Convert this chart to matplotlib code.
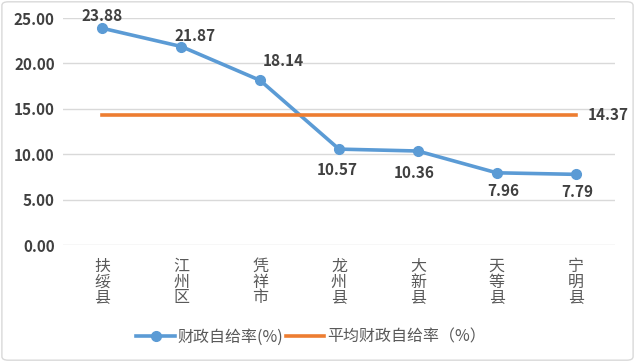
import matplotlib.pyplot as plt
from matplotlib.patches import FancyBboxPatch

plt.rcParams['font.family'] = ['Noto Sans CJK SC', 'DejaVu Sans']

regions = ['扶绥县', '江州区', '凭祥市', '龙州县', '大新县', '天等县', '宁明县']
rates = [23.88, 21.87, 18.14, 10.57, 10.36, 7.96, 7.79]
avg_rate = 14.37
yticks = [0, 5, 10, 15, 20, 25]

blue = '#5B9BD5'
orange = '#ED7D31'
txt = '#404040'

fig = plt.figure(figsize=(6.35, 3.62), dpi=100)
ax = fig.add_axes([63 / 635, 0.323, 552 / 635, 0.627])

x = list(range(len(regions)))
ax.plot(x, rates, color=blue, lw=2.6, marker='o', ms=7, label='财政自给率(%)')
ax.plot(x, [avg_rate] * len(x), color=orange, lw=2.6, label='平均财政自给率（%）')

# data labels (offsets in points)
offsets = [(0, 3, 'bottom'), (10, 2, 'bottom'), (17, 8, 'bottom'),
           (-1, -9, 'top'), (-3, -10, 'top'), (5, -7, 'top'), (1, -7, 'top')]
for i, v in enumerate(rates):
    dx, dy, va = offsets[i]
    ax.annotate('%.2f' % v, (i, v), xytext=(dx, dy), textcoords='offset points',
                ha='center', va=va, fontsize=11, fontweight='bold', color=txt)
ax.annotate('%.2f' % avg_rate, (x[-1], avg_rate), xytext=(9, 0), textcoords='offset points',
            ha='left', va='center', fontsize=11, fontweight='bold', color=txt,
            annotation_clip=False, clip_on=False)

ax.set_xlim(-0.5, len(regions) - 0.5)
ax.set_ylim(0, 25)
ax.set_yticks(yticks)
ax.set_yticklabels(['%.2f' % t for t in yticks], fontweight='bold', color=txt, fontsize=11)
ax.set_xticks(x)
ax.set_xticklabels(['\n'.join(r) for r in regions], color='#595959', fontsize=11.5,
                   linespacing=0.92, va='top')
ax.tick_params(axis='y', length=0, pad=6)
ax.tick_params(axis='x', length=0, pad=9)
ax.grid(axis='y', color='#D9D9D9', lw=1)
ax.set_axisbelow(True)
for s in ax.spines.values():
    s.set_visible(False)

fig.legend(loc='center', bbox_to_anchor=(311 / 635, 1 - 337 / 362), ncol=2, frameon=False,
           fontsize=11.5, handlelength=2.4, columnspacing=0.2, handletextpad=0.15,
           labelcolor='#595959')

fig.patches.append(FancyBboxPatch((0.003, 0.005), 0.994, 0.99, boxstyle='round,pad=0,rounding_size=0.01',
                                  transform=fig.transFigure, fill=False, ec='#D9D9D9', lw=1))

fig.savefig('out.png', dpi=100)
